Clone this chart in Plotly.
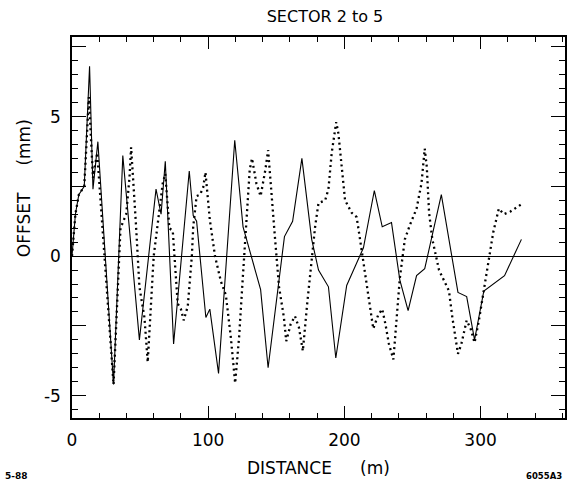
import plotly.graph_objects as go

# Solid series (distance m, offset mm)
solid_x = [0, 2.5, 5, 9, 12.9, 15.4, 19, 30.5, 37.3, 49.5, 61.7, 65.4, 68.5, 74.6,
           86.1, 89, 91.5, 98.3, 101.2, 107.6, 119.5, 125.6, 138.5, 144, 156, 162,
           168.8, 176, 181, 188.3, 193.7, 201.7, 214, 222, 227.8, 234.6, 240.7,
           246.8, 253, 259, 271.2, 283.4, 289.8, 295.6, 302.4, 317.6, 330]
solid_y = [0, 1.5, 2.2, 2.5, 6.8, 2.4, 4.1, -4.6, 3.6, -3.0, 2.4, 1.5, 3.4, -3.15,
           3.05, 1.45, 1.25, -2.2, -1.9, -4.2, 4.15, 1.05, -1.2, -4.0, 0.7, 1.25,
           3.5, 0.6, -0.5, -1.1, -3.65, -1.05, 0.3, 2.35, 1.05, 1.2, -0.85,
           -1.95, -0.7, -0.45, 2.2, -1.3, -1.45, -3.0, -1.25, -0.7, 0.6]

# Dotted series
dot_x = [0, 2.5, 5, 9, 12.4, 15.4, 18.5, 30.5, 35.6, 39.8, 42.2, 43.4, 47, 49.5,
         53.2, 55.6, 60, 64, 66.6, 68.5, 71.5, 74, 77.6, 80, 82, 85, 88, 89, 91.5,
         94, 96.3, 98, 101.2, 105, 109.3, 113, 116.6, 119.8, 122.7, 125, 128,
         130.5, 132.2, 135.4, 138.5, 142, 144, 146.3, 148.8, 152, 155.6, 157.3,
         160.5, 163.7, 166.6, 169.5, 172.7, 178.5, 181, 185.9, 188.3, 190.7, 194,
         195.6, 197.6, 200.5, 205.4, 209, 211.5, 215, 218.8, 221.2, 224.9, 227.8,
         230.2, 232.7, 236, 240.7, 244.4, 248, 253, 256.6, 259, 260.5, 262.2,
         264.6, 269.5, 276.8, 279.3, 281.7, 283.4, 285.9, 289.8, 292.7, 295.6,
         298.8, 303.7, 309.3, 313.4, 317, 322, 326.8, 329.8]
dot_y = [0, 1.5, 2.2, 2.5, 5.7, 2.8, 3.7, -4.6, 1.0, 1.5, 2.8, 3.9, 1.1, -1.1,
         -2.2, -3.8, 0, 1.6, 2.6, 2.95, 1.0, 0.9, -1.7, -1.9, -2.3, -1.8, 0, 1.05, 2.15,
         2.2, 2.45, 3.0, 1.3, 0, -0.9, -1.4, -2.9, -4.55, -2.9, -1.1, 1.4,
         3.1, 3.5, 2.6, 2.15, 3.1, 3.8, 2.5, 0.8, -1.1, -2.2, -3.05,
         -2.45, -2.15, -2.55, -3.4, -1.7, 1.05, 1.9, 2.0, 2.4, 3.7, 4.8,
         4.4, 3.5, 2.0, 1.55, 1.4, 0.6, -0.5, -1.7, -2.6, -2.1, -1.9,
         -2.45, -3.15, -3.7, -0.8, 0.6, 1.1, 1.7, 2.6, 3.85, 3.2, 1.55,
         0.6, -0.5, -1.25, -2.2, -3.05, -3.5, -3.15, -2.3, -2.6, -3.1,
         -2.3, -0.85, 0.85, 1.7, 1.5, 1.6, 1.75, 1.85]

x_ticks = [0, 100, 200, 300]
y_ticks = [-5, -2.5, 0, 2.5, 5, 7.5]
y_tick_text = ["-5", "", "0", "", "5", ""]

FONT = "DejaVu Sans"

fig = go.Figure()
fig.add_trace(go.Scatter(x=solid_x, y=solid_y, mode="lines",
                         line=dict(color="black", width=1.1), showlegend=False))
fig.add_trace(go.Scatter(x=dot_x, y=dot_y, mode="lines",
                         line=dict(color="black", width=2.3, dash="2px,3.5px"),
                         showlegend=False))

PW, PH = 495, 381  # plot area size in px

fig.update_layout(
    width=569, height=487,
    margin=dict(l=72, r=2, t=37, b=69),
    paper_bgcolor="white", plot_bgcolor="white",
    font=dict(family=FONT, color="black", size=17),
    title=dict(text="SECTOR 2 to 5", x=325 / 569, xanchor="center",
               y=1 - 16 / 487, yanchor="middle",
               font=dict(family=FONT, size=16, color="black")),
)
fig.update_xaxes(
    range=[0, 362], showgrid=False, zeroline=False,
    showline=True, linecolor="black", linewidth=1.5, mirror="ticks",
    ticks="inside", ticklen=12, tickwidth=1.3, tickcolor="black",
    tickvals=x_ticks, tickfont=dict(size=17), ticklabelstandoff=6,
    minor=dict(dtick=20, tick0=0, ticks="inside", ticklen=5, tickwidth=1, tickcolor="black"),
)
fig.update_yaxes(
    range=[-5.8, 7.85], showgrid=False,
    zeroline=True, zerolinecolor="black", zerolinewidth=1.4,
    showline=True, linecolor="black", linewidth=1.5, mirror="ticks",
    ticks="inside", ticklen=14, tickwidth=1.3, tickcolor="black",
    tickvals=y_ticks, ticktext=y_tick_text, tickfont=dict(size=17),
    ticklabelstandoff=6,
    minor=dict(dtick=0.5, tick0=0, ticks="inside", ticklen=6, tickwidth=1, tickcolor="black"),
)

fig.add_annotation(text="OFFSET &nbsp;&nbsp;&nbsp;&nbsp;(mm)", textangle=-90,
                   xref="paper", yref="paper", x=-48 / PW, y=(418 - 188) / PH,
                   xanchor="center", yanchor="middle", showarrow=False,
                   font=dict(size=17))
fig.add_annotation(text="DISTANCE", xref="paper", yref="paper",
                   x=(290 - 72) / PW, y=-50 / PH,
                   xanchor="center", yanchor="middle", showarrow=False,
                   font=dict(size=17))
fig.add_annotation(text="(m)", xref="paper", yref="paper",
                   x=(376 - 72) / PW, y=-50 / PH,
                   xanchor="center", yanchor="middle", showarrow=False,
                   font=dict(size=17))
fig.add_annotation(text="<b>5-88</b>", xref="paper", yref="paper",
                   x=-69 / PW, y=-58 / PH, xanchor="left", yanchor="middle",
                   showarrow=False, font=dict(size=9))
fig.add_annotation(text="<b>6055A3</b>", xref="paper", yref="paper",
                   x=494 / PW, y=-58 / PH, xanchor="right", yanchor="middle",
                   showarrow=False, font=dict(size=8.5))

fig.write_html("out.html",
               config={"displayModeBar": False},
               post_script="document.body.style.margin='0';document.body.style.overflow='hidden';")
